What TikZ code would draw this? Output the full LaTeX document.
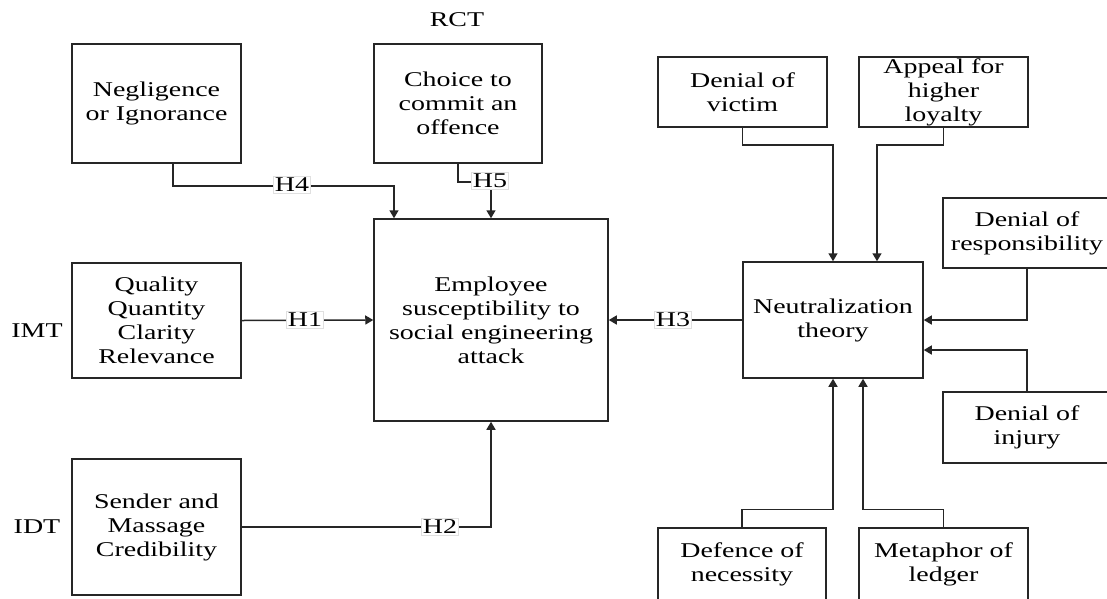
\documentclass[tikz,border=0pt]{standalone}
\usepackage{fontspec}
\setmainfont{Liberation Serif}[FakeStretch=1.33]
\usetikzlibrary{arrows.meta,calc}
\tikzset{
  txt/.style={font=\fontsize{21}{24}\selectfont},
  box/.style={txt, draw=black!85, line width=1.5pt, fill=white, inner sep=0pt, align=center},
  lbl/.style={txt, inner sep=0pt},
  hyp/.style={txt, fill=white, draw=black!12, line width=0.5pt, inner sep=1.5pt},
  conn/.style={draw=black!85, line width=1.5pt},
  arr/.style={conn, -{Triangle[width=9pt,length=8pt]}},
}
\begin{document}
\begin{tikzpicture}[x=1pt,y=-1pt]
\fill[white] (0,0) rectangle (1107,598);
\clip (0,0) rectangle (1107,598);
% boxes
\node[box, minimum width=169pt, minimum height=119pt] (neg) at (156.5,103.5) {Negligence\\or Ignorance};
\node[box, minimum width=168pt, minimum height=119pt] (choice) at (458,103.5) {Choice to\\commit an\\offence};
\node[lbl] (rct) at (457,20) {RCT};
\node[box, minimum width=234pt, minimum height=202pt] (emp) at (491,320) {Employee\\susceptibility to\\social engineering\\attack};
\node[box, minimum width=169pt, minimum height=115pt] (qual) at (156.5,320.5) {Quality\\Quantity\\Clarity\\Relevance};
\node[lbl] (imt) at (37,331) {IMT};
\node[box, minimum width=169pt, minimum height=136pt] (send) at (156.5,527) {Sender and\\Massage\\Credibility};
\node[lbl] (idt) at (37,527) {IDT};
\node[box, minimum width=180pt, minimum height=116pt] (neu) at (833,320) {Neutralization\\theory};
\node[box, minimum width=169pt, minimum height=70pt] (vic) at (742.5,92) {Denial of\\victim};
\node[box, minimum width=169pt, minimum height=70pt] (app) at (943.5,92) {Appeal for\\higher\\loyalty};
\node[box, minimum width=168pt, minimum height=70pt] (resp) at (1027,233) {Denial of\\responsibility};
\node[box, minimum width=168pt, minimum height=71pt] (inj) at (1027,427.5) {Denial of\\injury};
\node[box, minimum width=168pt, minimum height=72pt] (def) at (742,564) {Defence of\\necessity};
\node[box, minimum width=169pt, minimum height=72pt] (met) at (943.5,564) {Metaphor of\\ledger};
% connectors
\draw[arr] ([xshift=16.5pt]neg.south) -- ++(0,22) -| ([xshift=-97pt]emp.north);
\draw[arr] (choice.south) -- ++(0,18) -| (emp.north);
\draw[arr] (qual.east) -- (emp.west);
\draw[arr] (send.east) -| (emp.south);
\draw[arr] (neu.west) -- (emp.east);
\draw[arr] (vic.south) -- ++(0,17) -| (neu.north);
\draw[arr] (app.south) -- ++(0,17) -| ([xshift=44pt]neu.north);
\draw[arr] (resp.south) |- (neu.east);
\draw[arr] (inj.north) |- ([yshift=-30pt]neu.east);
\draw[arr] (def.north) -- ++(0,-18) -| (neu.south);
\draw[arr] (met.north) -- ++(0,-18) -| ([xshift=30pt]neu.south);
% hypothesis labels
\node[hyp] (h4) at (292,185) {H4};
\node[hyp] (h5) at (490,181) {H5};
\node[hyp] (h1) at (305,320) {H1};
\node[hyp] (h2) at (440,527) {H2};
\node[hyp] (h3) at (673,320) {H3};
\end{tikzpicture}
\end{document}
